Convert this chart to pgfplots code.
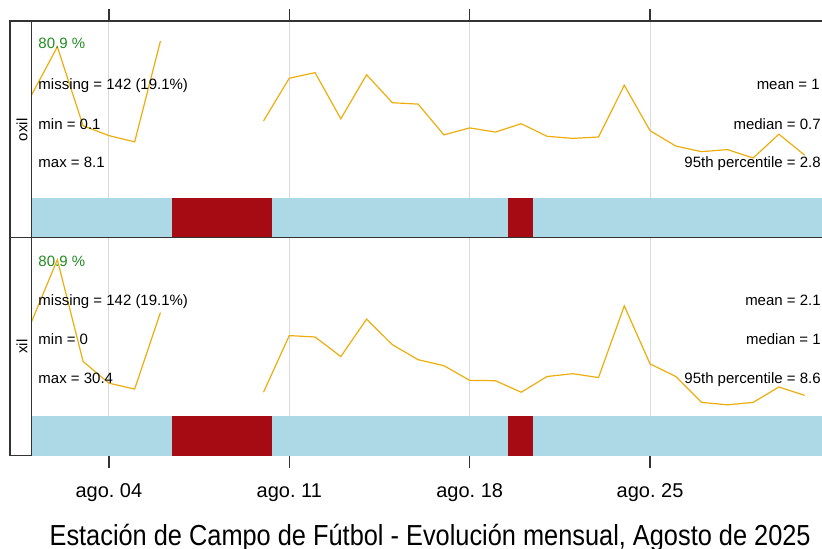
\documentclass[border={0pt 0pt -9.1pt 0pt}]{standalone}
\usepackage{pgfplots}
\pgfplotsset{compat=1.18}
\usepackage{pgfplotstable}
\usepackage{fontspec}
\setmainfont{Liberation Sans}
\definecolor{trend}{RGB}{238,173,14}
\definecolor{dat}{RGB}{173,216,230}
\definecolor{mis}{RGB}{166,10,18}
\definecolor{pct}{RGB}{34,139,34}
\definecolor{frm}{RGB}{51,51,51}
\definecolor{gridc}{RGB}{218,218,218}

\pgfplotstableread{
d oxil xil
1 1.47 2.69
2 2.16 4.46
3 1.03 1.55
4 0.89 0.93
5 0.80 0.76
6 2.24 2.95
7 nan nan
8 nan nan
9 nan nan
10 1.10 0.67
11 1.71 2.29
12 1.79 2.25
13 1.13 1.69
14 1.76 2.76
15 1.36 2.03
16 1.34 1.60
17 0.90 1.43
18 1.00 1.01
19 0.94 1.00
20 1.06 0.67
21 0.88 1.12
22 0.85 1.20
23 0.87 1.09
24 1.61 3.14
25 0.96 1.48
26 0.74 1.12
27 0.66 0.38
28 0.69 0.31
29 0.57 0.38
30 0.91 0.82
31 0.61 0.58
}\data

\pgfplotsset{
 layers/mylayers/.define layer set={axis background,axis grid,main,axis ticks,axis lines,axis tick labels,axis descriptions,axis foreground}{},
 panel/.style={
 set layers=mylayers,
 scale only axis, width=799.5pt, xmin=1, xmax=32,
 axis line style={frm, line width=1.3pt},
 xtick={4,11,18,25}, ytick=\empty,
 xmajorgrids, major grid style={gridc, line width=1.1pt},
 major tick style={frm, line width=1.3pt}, major tick length=12pt, tick align=outside,
 unbounded coords=jump,
 anchor=south west,
 }}

\newcommand{\ptxt}{\fontsize{15}{18}\selectfont}

\begin{document}
\begin{tikzpicture}[x=1pt,y=1pt]
\path (0,0) rectangle (822,549);

% top panel
\begin{axis}[panel, at={(31.6pt,311pt)}, height=217pt, ymin=-0.5714, ymax=2.5286,
  xtick pos=right, xticklabels=\empty]
\addplot[fill=dat, draw=none] coordinates {(1,-0.5714) (32,-0.5714) (32,0) (1,0)} -- cycle;
\addplot[fill=mis, draw=none] coordinates {(6.44,-0.5714) (10.32,-0.5714) (10.32,0) (6.44,0)} -- cycle;
\addplot[fill=mis, draw=none] coordinates {(19.47,-0.5714) (20.47,-0.5714) (20.47,0) (19.47,0)} -- cycle;
\addplot[trend, line width=1.2pt] table[x=d, y=oxil] {\data};
\end{axis}

% bottom panel
\begin{axis}[panel, at={(31.6pt,93pt)}, height=218pt, ymin=-1.1429, ymax=5.0857,
  xtick pos=left, xticklabels={ago.\ 04, ago.\ 11, ago.\ 18, ago.\ 25},
  xticklabel style={font=\fontsize{20}{24}\selectfont, anchor=base, yshift=-30pt}]
\addplot[fill=dat, draw=none] coordinates {(1,-1.1429) (32,-1.1429) (32,0) (1,0)} -- cycle;
\addplot[fill=mis, draw=none] coordinates {(6.44,-1.1429) (10.32,-1.1429) (10.32,0) (6.44,0)} -- cycle;
\addplot[fill=mis, draw=none] coordinates {(19.47,-1.1429) (20.47,-1.1429) (20.47,0) (19.47,0)} -- cycle;
\addplot[trend, line width=1.2pt] table[x=d, y=xil] {\data};
\end{axis}

% strips
\draw[frm, line width=1.3pt] (10,549-21) rectangle (31.6,549-238);
\draw[frm, line width=1.3pt] (10,549-238) rectangle (31.6,549-456);
\node[rotate=90, font=\fontsize{15}{18}\selectfont, inner sep=0] at (22,549-130) {oxil};
\node[rotate=90, font=\fontsize{15}{18}\selectfont, inner sep=0] at (22,549-347) {xil};

% panel texts top
\node[anchor=base west, inner sep=0, font=\ptxt, text=pct] at (38.3,549-49) {80.9 \%};
\node[anchor=base west, inner sep=0, font=\ptxt] at (38.3,549-90) {missing = 142 (19.1\%)};
\node[anchor=base west, inner sep=0, font=\ptxt] at (38.3,549-129.5) {min = 0.1};
\node[anchor=base west, inner sep=0, font=\ptxt] at (38.3,549-168) {max = 8.1};
\node[anchor=base east, inner sep=0, font=\ptxt] at (820.5,549-90) {mean = 1};
\node[anchor=base east, inner sep=0, font=\ptxt] at (821.5,549-129.5) {median = 0.7};
\node[anchor=base east, inner sep=0, font=\ptxt] at (821.5,549-168) {95th percentile = 2.8};
% panel texts bottom
\node[anchor=base west, inner sep=0, font=\ptxt, text=pct] at (38.3,549-267) {80.9 \%};
\node[anchor=base west, inner sep=0, font=\ptxt] at (38.3,549-306) {missing = 142 (19.1\%)};
\node[anchor=base west, inner sep=0, font=\ptxt] at (38.3,549-345) {min = 0};
\node[anchor=base west, inner sep=0, font=\ptxt] at (38.3,549-384) {max = 30.4};
\node[anchor=base east, inner sep=0, font=\ptxt] at (821.5,549-306) {mean = 2.1};
\node[anchor=base east, inner sep=0, font=\ptxt] at (821.5,549-345) {median = 1};
\node[anchor=base east, inner sep=0, font=\ptxt] at (821.5,549-384) {95th percentile = 8.6};

% title
\node[anchor=base, inner sep=0, text depth=0pt, font=\fontsize{29}{34}\selectfont] at (430.5,3) {\scalebox{0.875}[1]{Estación de Campo de Fútbol - Evolución mensual, Agosto de 2025}};
\end{tikzpicture}
\end{document}
